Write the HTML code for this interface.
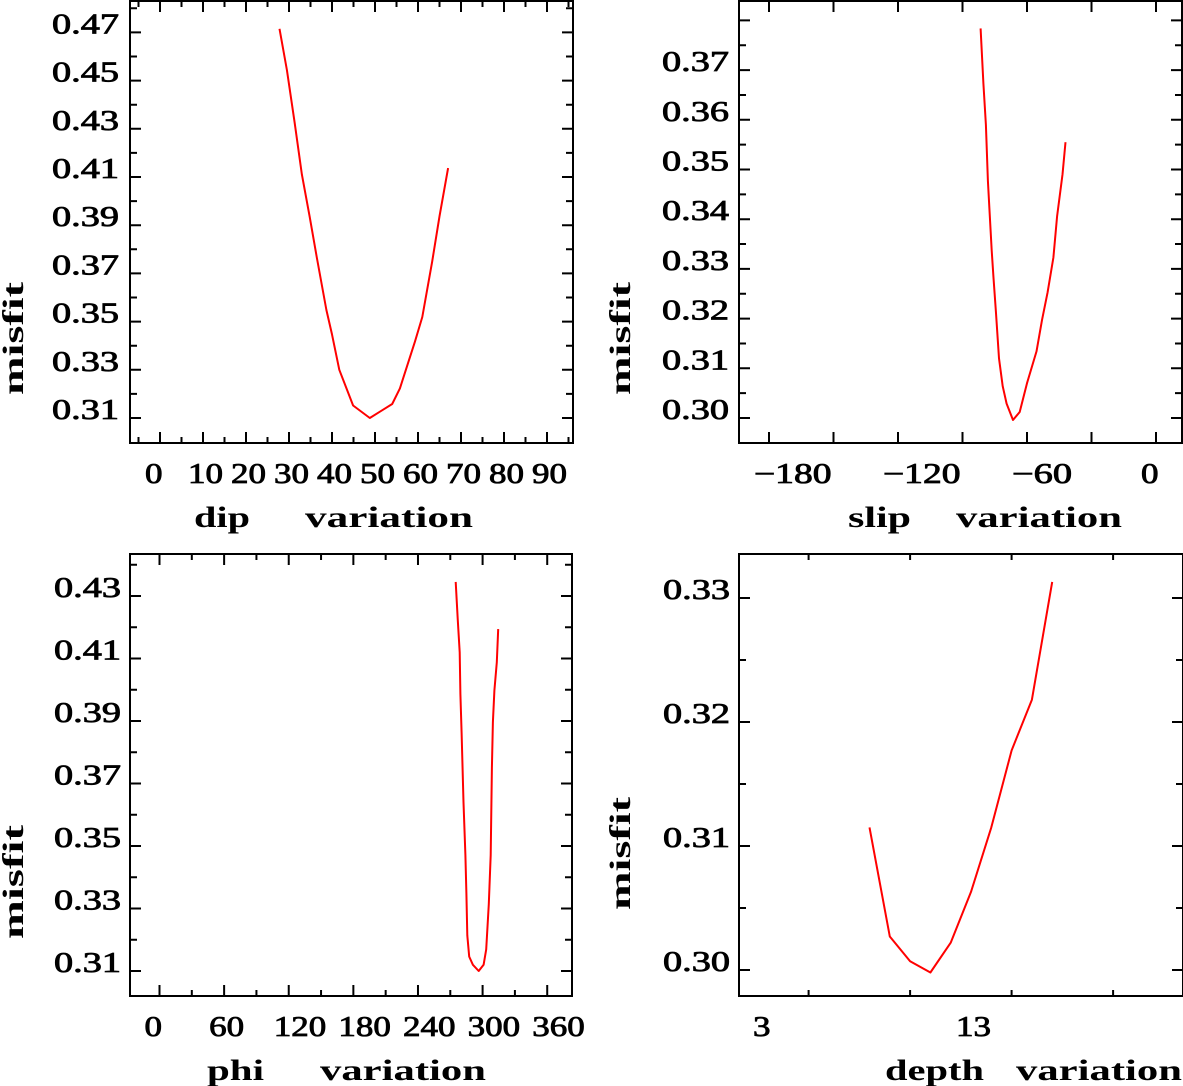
<!DOCTYPE html>
<html><head><meta charset="utf-8"><style>
html,body{margin:0;padding:0;background:#fff;}
svg{display:block;}
text{font-family:"Liberation Serif",serif;fill:#000;}
</style></head>
<body>
<svg id="chart" width="1183" height="1086" viewBox="0 0 1183 1086" xmlns="http://www.w3.org/2000/svg"></svg>
<script>
// ---- data ----
const dipX = [27.8,29.5,31.3,33.0,34.8,36.5,38.7,40.0,41.7,44.9,48.8,54.0,55.8,59.3,61.0,63.3,65.0,67.0];
const dipY = [0.4715,0.4544,0.4327,0.411,0.3937,0.3764,0.3548,0.3447,0.330,0.3152,0.3100,0.3158,0.3223,0.3418,0.3519,0.375,0.3937,0.4137];
const slipX = [-81.6,-80.3,-79.1,-78.2,-77.4,-76.4,-75.6,-74.4,-73.0,-71.3,-69.5,-66.5,-63.4,-60.0,-55.6,-53.0,-50.4,-47.7,-46.0,-43.5,-42.1];
const slipY = [0.3784,0.3673,0.359,0.3477,0.3414,0.3337,0.3282,0.3211,0.312,0.3064,0.3029,0.2996,0.3012,0.307,0.3134,0.3197,0.3253,0.3323,0.3406,0.349,0.3555];
const phiX = [275,277,278.7,279.4,280.5,282.3,284,285,285.8,287.6,291,296.4,300.9,303.3,305.8,307.5,308.6,309.6,311,313.2,314.5];
const phiY = [0.4345,0.4222,0.412,0.3986,0.3863,0.364,0.3471,0.3348,0.3214,0.3146,0.312,0.310,0.312,0.3169,0.3314,0.3471,0.3751,0.3897,0.3998,0.4088,0.4194];
const depthX = [8,9,10,11,12,13,14,15,16,17];
const depthY = [0.3115,0.3027,0.3007,0.2998,0.3022,0.3063,0.3115,0.3177,0.3218,0.3313];
const dipTicks = [0,10,20,30,40,50,60,70,80,90];
const slipTicks = [-180,-120,-60,0];
const phiTicks = [0,60,120,180,240,300,360];
const depthTicks = [3,13];
const dipYTicks = [0.31,0.33,0.35,0.37,0.39,0.41,0.43,0.45,0.47];
const slipYTicks = [0.30,0.31,0.32,0.33,0.34,0.35,0.36,0.37];
const phiYTicks = [0.31,0.33,0.35,0.37,0.39,0.41,0.43];
const depthYTicks = [0.30,0.31,0.32,0.33];

const NS="http://www.w3.org/2000/svg";
const svg=document.getElementById('chart');
function el(tag,attrs,parent){const e=document.createElementNS(NS,tag);for(const k in attrs)e.setAttribute(k,attrs[k]);(parent||svg).appendChild(e);return e;}

const panels=[
 {name:'dip',box:[130,573,1,443],x0:0,px0:160,ppu:4.3,xmin:-5,xmax:95,xMajor:10,xMinor:5,xTicks:dipTicks,
  yv0:0.31,py0:418,yppu:2410,ymin:0.28,ymax:0.49,yMajor:0.02,yMinor:0.01,yTicks:dipYTicks,yLabEnd:119,
  xs:dipX,ys:dipY,t1:['dip',194,56],t2:['variation',305,168],tY:527,mx:13,my:[282,395]},
 {name:'slip',box:[739,1182,1,443],x0:0,px0:1156,ppu:2.15,xmin:-200,xmax:20,xMajor:30,xMinor:30,xTicks:slipTicks,
  yv0:0.30,py0:418,yppu:4970,ymin:0.29,ymax:0.385,yMajor:0.01,yMinor:0.005,yTicks:slipYTicks,yLabEnd:729,
  xs:slipX,ys:slipY,t1:['slip',848,63],t2:['variation',956,166],tY:527,mx:620,my:[282,395]},
 {name:'phi',box:[130,572,554,996],x0:0,px0:159.5,ppu:1.077,xmin:-30,xmax:390,xMajor:60,xMinor:30,xTicks:phiTicks,
  yv0:0.31,py0:971,yppu:3125,ymin:0.29,ymax:0.45,yMajor:0.02,yMinor:0.01,yTicks:phiYTicks,yLabEnd:121,
  xs:phiX,ys:phiY,t1:['phi',207,57],t2:['variation',320,166],tY:1080,mx:13,my:[825,939]},
 {name:'depth',box:[739,1183,554,996],x0:3,px0:768,ppu:20.3,xmin:0,xmax:30,xMajor:5,xMinor:5,xTicks:depthTicks,
  yv0:0.30,py0:970,yppu:12400,ymin:0.29,ymax:0.34,yMajor:0.01,yMinor:0.005,yTicks:depthYTicks,yLabEnd:730,
  xs:depthX,ys:depthY,t1:['depth',885,99],t2:['variation',1016,166],tY:1080,mx:620,my:[797,910]}
];

function lab(v){ if(Math.abs(v)<1e-9) return '0'; return (v<0?'\u2212':'')+Math.abs(v); }
function labW(s){let w=0;for(const c of s){w+= c==='\u2212'?25:(c==='.'?10:17.5);}return w;}

panels.forEach(p=>{
  const g=el('g',{});
  
  
  const [L,R,T,B]=p.box;
  const X=v=>p.px0+(v-p.x0)*p.ppu;
  const Y=v=>p.py0-(v-p.yv0)*p.yppu;
  const fr=el('rect',{x:L,y:T,width:R-L,height:B-T,fill:'none',stroke:'#000','stroke-width':2},g);
  
  
  let d='';
  const xs0=Math.ceil(p.xmin/p.xMinor)*p.xMinor;
  for(let v=xs0; v<=p.xmax+1e-9; v+=p.xMinor){
    const px=X(v); if(px<=L+1||px>=R-1) continue;
    const major=Math.abs(((v-p.x0)/p.xMajor)-Math.round((v-p.x0)/p.xMajor))<1e-6;
    const len=major?11:6;
    d+=`M${px},${B}V${B-len}M${px},${T}V${T+len}`;
  }
  const n0=Math.ceil(p.ymin/p.yMinor-1e-6), n1=Math.floor(p.ymax/p.yMinor+1e-6);
  for(let n=n0;n<=n1;n++){
    const v=n*p.yMinor; const py=Y(v); if(py<=T+1||py>=B-1) continue;
    const r=(v-p.yv0)/p.yMajor; const major=Math.abs(r-Math.round(r))<1e-6;
    const len=major?11:7;
    d+=`M${L},${py}H${L+len}M${R},${py}H${R-len}`;
  }
  const tk=el('path',{d:d,stroke:'#000','stroke-width':2,fill:'none'},g);
  
  
  p.xTicks.forEach(v=>{
    const s=lab(v);
    const t=el('text',{x:X(v)-15,y:B+40,'font-size':28,'text-anchor':'start',textLength:labW(s),lengthAdjust:'spacingAndGlyphs',stroke:'#000','stroke-width':0.8},g);
    t.textContent=s;
    
    
  });
  p.yTicks.forEach(v=>{
    const s=v.toFixed(2);
    const t=el('text',{x:p.yLabEnd,y:Y(v)+1,'font-size':28,'text-anchor':'end',textLength:67,lengthAdjust:'spacingAndGlyphs',stroke:'#000','stroke-width':0.8},g);
    t.textContent=s;
    
    
  });
  [p.t1,p.t2].forEach((tt,i)=>{
    const t=el('text',{x:tt[1],y:p.tY,'font-size':30,'font-weight':'bold',textLength:tt[2],lengthAdjust:'spacingAndGlyphs'},g);
    t.textContent=tt[0];
    
    
  });
  const cy=(p.my[0]+p.my[1])/2;
  const yt=el('text',{x:p.mx+10,y:cy,'font-size':30,'font-weight':'bold','text-anchor':'middle',textLength:p.my[1]-p.my[0],lengthAdjust:'spacingAndGlyphs',transform:`rotate(-90 ${p.mx+10} ${cy})`},g);
  yt.textContent='misfit';
  
  
  const pts=p.xs.map((v,i)=>X(v).toFixed(1)+','+Y(p.ys[i]).toFixed(1)).join(' ');
  const ln=el('polyline',{points:pts,fill:'none',stroke:'#ff0000','stroke-width':2,'stroke-linejoin':'round'},g);
  
  
});
</script>
</body></html>
